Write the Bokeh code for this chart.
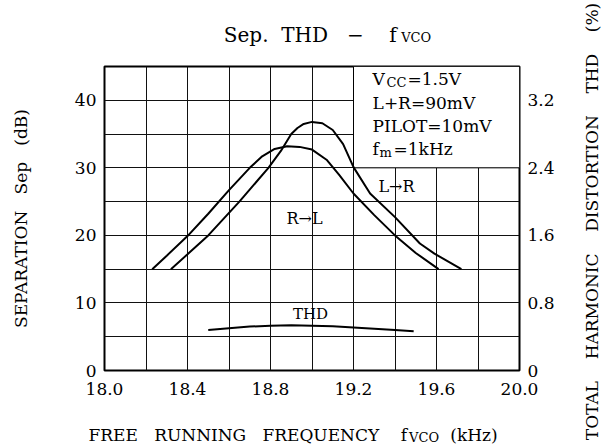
from bokeh.plotting import figure
from bokeh.models import Range1d, LinearAxis, FixedTicker, Label
from bokeh.embed import file_html
from bokeh.resources import INLINE
import math

# ---- data ----
freq_rl = [18.23, 18.30, 18.40, 18.50, 18.60, 18.70, 18.76, 18.82, 18.88, 18.94,
           19.00, 19.07, 19.13, 19.20, 19.30, 19.40, 19.50, 19.61]
sep_rl = [15.0, 17.0, 19.9, 23.2, 26.7, 30.0, 31.7, 32.8, 33.2, 33.1,
          32.7, 31.2, 29.0, 26.2, 23.0, 20.0, 17.4, 15.0]

freq_lr = [18.32, 18.40, 18.50, 18.65, 18.79, 18.85, 18.90, 18.93, 18.96, 19.00,
           19.05, 19.10, 19.15, 19.20, 19.28, 19.40, 19.52, 19.59, 19.72]
sep_lr = [15.0, 17.2, 20.0, 25.0, 30.0, 32.5, 35.0, 35.9, 36.5, 36.8,
          36.6, 35.6, 33.5, 30.1, 26.2, 22.7, 18.8, 17.3, 15.0]

freq_thd = [18.50, 18.60, 18.70, 18.80, 18.90, 19.00, 19.10, 19.20, 19.30, 19.40, 19.49]
thd_pct = [0.48, 0.50, 0.52, 0.53, 0.535, 0.53, 0.525, 0.51, 0.495, 0.48, 0.465]

x_ticks = [18.0, 18.4, 18.8, 19.2, 19.6, 20.0]
x_tick_labels = ["18.0", "18.4", "18.8", "19.2", "19.6", "20.0"]
x_grid = [18.2, 18.4, 18.6, 18.8, 19.0, 19.2, 19.4, 19.6, 19.8]
sep_ticks = [0, 10, 20, 30, 40]
sep_grid = [5, 10, 15, 20, 25, 30, 35, 40]
thd_ticks = [0, 0.8, 1.6, 2.4, 3.2]
thd_tick_labels = ["0", "0.8", "1.6", "2.4", "3.2"]

FONT = "DejaVu Serif"
G2 = " \u00a0"          # word gaps of two, three and four spaces
G3 = " \u00a0 "
G4 = " \u00a0 \u00a0"

p = figure(width=607, height=448, x_range=Range1d(18.0, 20.0), y_range=Range1d(0, 45),
           output_backend="svg", toolbar_location=None,
           min_border_left=104, min_border_right=88, min_border_top=66, min_border_bottom=78)
p.extra_y_ranges = {"thd": Range1d(0, 3.6)}
p.add_layout(LinearAxis(y_range_name="thd"), "right")

p.background_fill_color = "white"
p.border_fill_color = "white"
p.outline_line_color = "black"
p.outline_line_width = 2

for ax in p.axis:
    ax.axis_line_color = None
    ax.major_tick_line_color = None
    ax.minor_tick_line_color = None
    ax.major_tick_out = 0
    ax.major_tick_in = 0
    ax.major_label_text_font = FONT
    ax.major_label_text_font_size = "17px"
    ax.major_label_text_color = "black"
    ax.major_label_standoff = 8

p.xaxis.ticker = FixedTicker(ticks=x_ticks)
p.xaxis.major_label_overrides = dict(zip(x_ticks, x_tick_labels))
p.xaxis.major_label_standoff = 12
p.yaxis[0].ticker = FixedTicker(ticks=sep_ticks)
p.yaxis[1].ticker = FixedTicker(ticks=thd_ticks)
p.yaxis[1].major_label_overrides = dict(zip(thd_ticks, thd_tick_labels))

p.xgrid.ticker = FixedTicker(ticks=x_grid)
p.ygrid.ticker = FixedTicker(ticks=sep_grid)
for g in (p.xgrid, p.ygrid):
    g.grid_line_color = "#111111"
    g.grid_line_width = 1

# box for the condition text (no grid inside)
p.quad(left=[x_ticks[3]], right=[x_ticks[-1]], bottom=[sep_ticks[3]], top=[45],
       fill_color="white", line_color="black", line_width=1)

p.line(freq_rl, sep_rl, line_color="black", line_width=2)
p.line(freq_lr, sep_lr, line_color="black", line_width=2)
p.line(freq_thd, thd_pct, line_color="black", line_width=2, y_range_name="thd")


def lab(x, y, text, size, align="left", angle=0.0, baseline="alphabetic", side=None):
    l = Label(x=x, y=y, text=text, text_font=FONT, text_font_size=size,
              text_align=align, text_baseline=baseline, angle=angle,
              text_color="black")
    if side is None:
        p.add_layout(l)
    else:
        p.add_layout(l, side)


# title (placed in the top panel so it is not clipped to the frame)
lab(18.575, 49.7, "Sep." + G2 + "THD" + G3 + "\u2212" + G4 + "f", "20px", side="above")
lab(19.430, 49.25, "VCO", "13px", side="above")

# x axis label
lab(17.9229, -9.5, "FREE" + G3 + "RUNNING" + G3 + "FREQUENCY" + G4 + "f"
    + "\u00a0" * 8 + "(kHz)", "17px", side="below")
lab(19.468, -9.95, "VCO", "13px", side="above")

# y axis labels
lab(17.5952, 22.5, "SEPARATION" + G3 + "Sep" + G3 + "(dB)", "17px", align="center",
    angle=math.pi / 2, baseline="middle", side="left")
lab(20.3518, 22.06, "TOTAL" + G4 + "HARMONIC" + G4 + "DISTORTION" + G4 + "THD" + G4 + "(%)", "17px",
    align="center", angle=math.pi / 2, baseline="middle", side="right")

# conditions
dy = 0.85
lab(19.292, 42.26 + dy, "V", "17px")
lab(19.359, 41.8 + dy, "CC", "13px")
lab(19.460, 42.26 + dy, "=1.5V", "17px")
lab(19.292, 38.78 + dy, "L+R=90mV", "17px")
lab(19.292, 35.38 + dy, "PILOT=10mV", "17px")
lab(19.292, 31.9 + dy, "f", "17px")
lab(19.325, 31.45 + dy, "m", "13px")
lab(19.393, 31.9 + dy, "=1kHz", "17px")

# curve labels
lab(19.320, 27.2, "L\u2192R", "16px")
lab(18.877, 22.5, "R\u2192L", "16px")
lab(18.993, 8.4, "THD", "15px", align="center")

open("out.html", "w").write(file_html(p, INLINE))
